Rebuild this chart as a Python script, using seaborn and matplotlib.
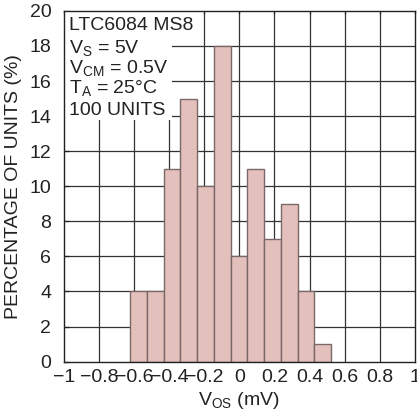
import pandas as pd
import matplotlib
matplotlib.use('Agg')
import matplotlib.pyplot as plt
from matplotlib.patches import Rectangle
import seaborn as sns

# histogram: bin edges (mV) and percentage of units
bin_edges = [-0.623, -0.527, -0.432, -0.336, -0.241, -0.145, -0.050,
             0.046, 0.141, 0.237, 0.332, 0.428, 0.524]
percent = [4, 4, 11, 15, 10, 18, 6, 11, 7, 9, 4, 1]

x_ticks = [-1, -0.8, -0.6, -0.4, -0.2, 0, 0.2, 0.4, 0.6, 0.8, 1]
x_labels = ['\u22121', '\u22120.8', '\u22120.6', '\u22120.4', '\u22120.2', '0',
            '0.2', '0.4', '0.6', '0.8', '1']
y_ticks = list(range(0, 21, 2))

notes = ['LTC6084 MS8',
         r'V$_{\mathregular{S}}$ = 5V',
         r'V$_{\mathregular{CM}}$ = 0.5V',
         r'T$_{\mathregular{A}}$ = 25°C',
         '100 UNITS']
note_y = [19.15, 17.85, 16.7, 15.55, 14.3]

sns.set_theme(style='white')
plt.rcParams['font.family'] = ['Liberation Sans Narrow', 'Liberation Sans', 'DejaVu Sans']
plt.rcParams['mathtext.fontset'] = 'custom'
plt.rcParams['mathtext.rm'] = 'Liberation Sans Narrow'

FS = 14
INK = '#222222'

fig = plt.figure(figsize=(4.17, 4.19), dpi=100)
ax = fig.add_axes([0.153, 0.137, 0.842, 0.837])

centers = [(a + b) / 2 for a, b in zip(bin_edges[:-1], bin_edges[1:])]
df = pd.DataFrame({'vos': centers, 'pct': percent})
sns.histplot(data=df, x='vos', weights='pct', bins=bin_edges,
             color='#e4c0bc', edgecolor='#7a6868', linewidth=1.0, alpha=1,
             ax=ax)

ax.set_xlim(-1, 1)
ax.set_ylim(0, 20)

# grid behind the bars, partly hidden by the white notes box
ax.vlines(x_ticks[1:-1], 0, 20, colors='#333333', linewidth=0.9, zorder=0.5)
ax.hlines(y_ticks[1:-1], -1, 1, colors='#333333', linewidth=0.9, zorder=0.5)
ax.add_patch(Rectangle((-1, 13.75), 0.615, 6.25, facecolor='white',
                       edgecolor='none', zorder=0.8))

ax.set_xticks(x_ticks)
ax.set_xticklabels(x_labels)
ax.set_yticks(y_ticks)
ax.grid(False)
for s in ax.spines.values():
    s.set_color(INK)
    s.set_linewidth(1.0)
ax.tick_params(axis='y', direction='in', length=3.5, width=0.9, color=INK,
               left=True, labelsize=FS, pad=9, labelcolor=INK)
ax.tick_params(axis='x', direction='in', length=2.5, width=0.9, color=INK,
               top=True, bottom=False, labelsize=FS, pad=5, labelcolor=INK)

ax.set_xlabel(r'V$_{\mathregular{OS}}$ (mV)', fontsize=FS, color=INK, labelpad=3)
ax.set_ylabel('PERCENTAGE OF UNITS (%)', fontsize=FS, color=INK, labelpad=5)

for txt, yy in zip(notes, note_y):
    ax.text(-0.972, yy, txt, fontsize=FS, color=INK, va='center', ha='left',
            zorder=5)

fig.savefig('out.png', dpi=100)
